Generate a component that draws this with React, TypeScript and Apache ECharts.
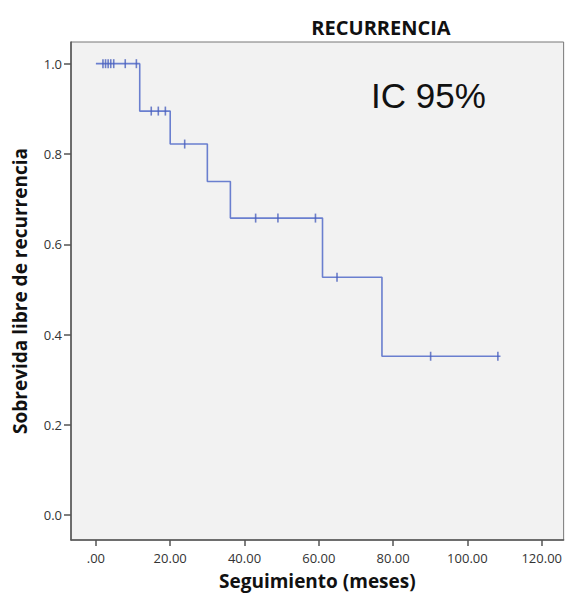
import React, { useEffect, useRef } from "react";
import * as echarts from "echarts";

// Kaplan-Meier step points: [time, survival after event]
const stepTimes = [0, 11.8, 20.0, 30.0, 36.2, 61.0, 77.0, 108.9];
const stepSurvival = [1.0, 0.895, 0.822, 0.739, 0.658, 0.527, 0.352, 0.352];

// Censored observations
const censorTimes = [1.9, 2.6, 3.3, 4.0, 4.8, 7.9, 10.9, 14.9, 16.8, 18.7, 23.9, 43.0, 49.0, 59.1, 64.9, 90.1, 108.2];
const censorSurvival = [1.0, 1.0, 1.0, 1.0, 1.0, 1.0, 1.0, 0.895, 0.895, 0.895, 0.822, 0.658, 0.658, 0.658, 0.527, 0.352, 0.352];

const xTicks = [0, 20, 40, 60, 80, 100, 120];
const yTicks = [0, 0.2, 0.4, 0.6, 0.8, 1.0];

const titleText = "RECURRENCIA";
const xTitle = "Seguimiento (meses)";
const yTitle = "Sobrevida libre de recurrencia";
const noteText = "IC 95%";

export default function App() {
  const ref = useRef<HTMLDivElement>(null);
  useEffect(() => {
    document.body.style.margin = "0";
    const chart = echarts.init(ref.current!, null, { renderer: "svg" });
    const lineData = stepTimes.map((t, i) => [t, stepSurvival[i]]);
    const censorData = censorTimes.map((t, i) => [t, censorSurvival[i]]);
    const lbl = "'Open Sans', 'DejaVu Sans', sans-serif";
    chart.setOption({
      animation: false,
      backgroundColor: "#ffffff",
      title: {
        text: titleText,
        left: 376,
        top: 12,
        textAlign: "center",
        textStyle: { fontFamily: lbl, fontWeight: "bold", fontSize: 20, color: "#111" },
      },
      graphic: [
        {
          type: "text",
          left: 371,
          top: 78,
          style: { text: noteText, fontFamily: "'Liberation Sans', Arial, sans-serif", fontSize: 35, fill: "#111" },
        },
      ],
      grid: {
        left: 71,
        top: 42,
        right: 0,
        bottom: 52,
        show: true,
        backgroundColor: "#f2f2f2",
        borderColor: "#777",
        borderWidth: 1,
      },
      xAxis: {
        type: "value",
        min: -6.7,
        max: 125.9,
        name: xTitle,
        nameLocation: "middle",
        nameGap: 31,
        nameTextStyle: { fontFamily: lbl, fontWeight: "bold", fontSize: 19, color: "#111" },
        axisLine: { show: true, onZero: false, lineStyle: { color: "#555", width: 1.5 } },
        axisTick: { show: true, length: 6, customValues: xTicks, lineStyle: { color: "#555", width: 1.5 } },
        axisLabel: {
          customValues: xTicks,
          margin: 11,
          fontFamily: lbl,
          fontSize: 13,
          color: "#333",
          formatter: (v: number) => (v === 0 ? ".00" : v.toFixed(2)),
        },
        splitLine: { show: false },
      },
      yAxis: {
        type: "value",
        min: -0.055,
        max: 1.048,
        name: yTitle,
        nameLocation: "middle",
        nameGap: 42,
        nameTextStyle: { fontFamily: lbl, fontWeight: "bold", fontSize: 19, color: "#111" },
        axisLine: { show: true, onZero: false, lineStyle: { color: "#555", width: 1.5 } },
        axisTick: { show: true, length: 7, customValues: yTicks, lineStyle: { color: "#555", width: 1.5 } },
        axisLabel: {
          customValues: yTicks,
          margin: 9,
          fontFamily: lbl,
          fontSize: 13,
          color: "#333",
          formatter: (v: number) => v.toFixed(1),
        },
        splitLine: { show: false },
      },
      series: [
        {
          type: "line",
          step: "end",
          data: lineData,
          showSymbol: false,
          lineStyle: { color: "#6a7fcf", width: 1.6 },
          z: 2,
        },
        {
          type: "scatter",
          data: censorData,
          symbol: "rect",
          symbolSize: [1.6, 9],
          itemStyle: { color: "#4a60bd" },
          z: 3,
        },
      ],
    });
    return () => chart.dispose();
  }, []);
  return <div ref={ref} style={{ position: "absolute", left: 0, top: 0, width: 565, height: 595 }} />;
}
